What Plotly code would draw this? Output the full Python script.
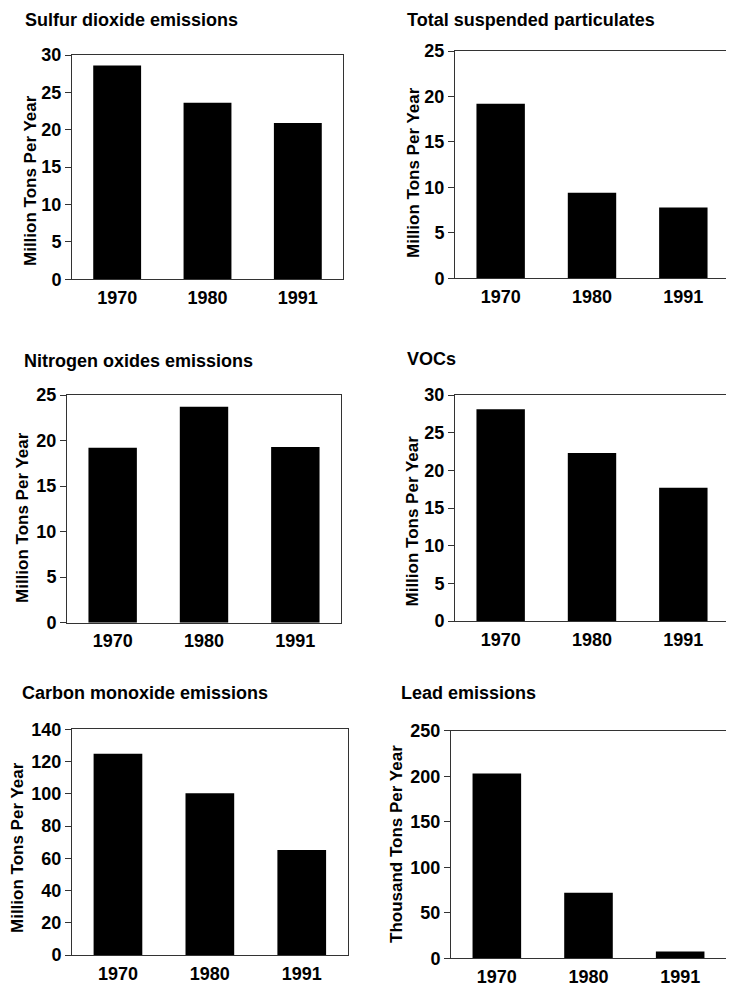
import plotly.graph_objects as go

# the page body has an 8px margin; the figure is sized so the page fits 734x988
OFF = 8
FW, FH = 726, 980

years = ["1970", "1980", "1991"]
so2 = [28.6, 23.6, 20.9]
tsp = [19.2, 9.4, 7.8]
nox = [19.2, 23.7, 19.3]
voc = [28.1, 22.3, 17.7]
co = [124.9, 100.4, 65.1]
lead = [203, 72, 7.5]

titles = ["Sulfur dioxide emissions", "Total suspended particulates",
          "Nitrogen oxides emissions", "VOCs",
          "Carbon monoxide emissions", "Lead emissions"]
ytitles = ["Million Tons Per Year"] * 5 + ["Thousand Tons Per Year"]
series = [so2, tsp, nox, voc, co, lead]
ymax = [30, 25, 25, 30, 140, 250]
dticks = [5, 5, 5, 5, 20, 50]

# pixel boxes in window coords: x0, x1, ytop, ybottom
boxes = [(72, 343, 55, 279.3), (455, 729, 51, 278.3),
         (67, 341, 395, 622.7), (455, 729, 395, 621),
         (72, 347.7, 729.3, 955), (451, 726, 730.7, 958.3)]
title_pos = [(23, 20), (405, 20), (22, 361), (405, 359), (20, 693), (399, 693)]
ytitle_pos = [(30, 181), (413, 173), (22, 518), (411.5, 521), (17, 848), (396, 844)]


def px(x):
    return (x - OFF) / FW


def py(y):
    return 1 - (y - OFF) / FH


FONT = "Liberation Sans, Arial, sans-serif"

fig = go.Figure()
layout = dict(width=FW, height=FH, margin=dict(l=0, r=0, t=0, b=0, autoexpand=False),
              template="none",
              paper_bgcolor="white", plot_bgcolor="white", showlegend=False,
              bargap=0.47, font=dict(family=FONT, color="black"))
annotations = []
for i in range(6):
    n = "" if i == 0 else str(i + 1)
    fig.add_trace(go.Bar(x=years, y=series[i], xaxis="x" + n, yaxis="y" + n,
                         marker=dict(color="black", line=dict(width=0))))
    x0, x1, yt, yb = boxes[i]
    layout["xaxis" + n] = dict(domain=[px(x0), px(x1)], anchor="y" + n, type="category",
                               showline=True, mirror=True, linecolor="#333", linewidth=1,
                               ticks="", showgrid=False, ticklabelstandoff=2,
                               automargin=False, zeroline=False,
                               tickfont=dict(size=18, family=FONT, weight="bold"))
    layout["yaxis" + n] = dict(domain=[py(yb), py(yt)], anchor="x" + n,
                               range=[0, ymax[i]], dtick=dticks[i], tick0=0,
                               showline=True, mirror=True, linecolor="#333", linewidth=1,
                               ticks="outside", ticklen=6, tickcolor="#333",
                               showgrid=False, zeroline=False, automargin=False,
                               tickfont=dict(size=18, family=FONT, weight="bold"))
    tx, ty = title_pos[i]
    annotations.append(dict(text="<b>%s</b>" % titles[i], x=px(tx), y=py(ty),
                            xref="paper", yref="paper", xanchor="left", yanchor="middle",
                            showarrow=False, font=dict(size=18, family=FONT)))
    ax, ay = ytitle_pos[i]
    annotations.append(dict(text="<b>%s</b>" % ytitles[i], x=px(ax), y=py(ay),
                            xref="paper", yref="paper", xanchor="center", yanchor="middle",
                            textangle=-90, showarrow=False, font=dict(size=17, family=FONT)))
layout["annotations"] = annotations
fig.update_layout(**layout)
fig.write_html("out.html")
